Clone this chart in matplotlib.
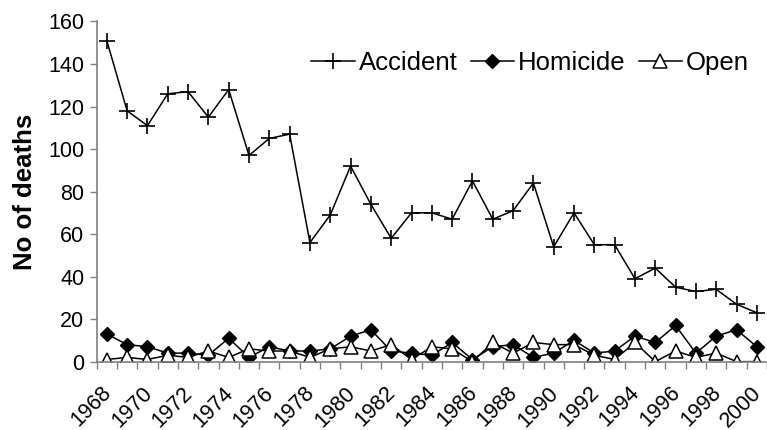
import matplotlib
matplotlib.use("Agg")
import matplotlib.pyplot as plt
import matplotlib.transforms as mtransforms
import numpy as np

plt.rcParams['font.family'] = ['Liberation Sans', 'DejaVu Sans']

# データ
years = list(range(1968, 2001))
accident = [151, 118, 111, 126, 127, 115, 128, 97, 105, 107, 56, 69, 92, 74, 58,
            70, 70, 67, 85, 67, 71, 84, 54, 70, 55, 55, 39, 44, 35, 33, 34, 27, 23]
homicide = [13, 8, 7, 4, 4, 3, 11, 2, 7, 5, 5, 6, 12, 15, 5,
            4, 3, 9, 1, 7, 8, 2, 4, 10, 4, 5, 12, 9, 17, 4, 12, 15, 7]
open_verdict = [1, 2, 1, 3, 2, 5, 2, 6, 5, 5, 2, 6, 7, 5, 8,
                1, 7, 6, 0, 9, 4, 9, 8, 8, 3, 1, 9, 0, 5, 2, 4, 0, 0]
tick_labels = [str(y) for y in years[::2]]

fig = plt.figure(figsize=(7.67, 4.30), dpi=100)
ax = fig.add_axes([0.126, 0.159, 0.874, 0.791])

x = np.arange(len(years))
ax.plot(x, accident, color="black", lw=1.1, marker="+", ms=12, mew=1.2, label="Accident")
ax.plot(x, homicide, color="black", lw=1.1, marker="D", ms=7, mfc="black", label="Homicide")
ax.plot(x, open_verdict, color="black", lw=1.1, marker="^", ms=10, mfc="white",
        mec="black", mew=1.1, label="Open")

ax.set_xlim(-0.5, len(years) - 0.5)
ax.set_ylim(0, 160)
ax.set_yticks(range(0, 161, 20))
ax.tick_params(axis="y", labelsize=15.5, length=5, width=1, color="#808080", pad=4)

# 目盛りはカテゴリの境界に、ラベルは2年おき
ax.set_xticks(x[::2])
ax.set_xticklabels(tick_labels, rotation=45, ha="right", va="top", rotation_mode="anchor")
ax.set_xticks(np.arange(-0.5, len(years), 1), minor=True)
ax.tick_params(axis="x", which="major", length=0, labelsize=15.5, pad=15)
ax.tick_params(axis="x", which="minor", length=5, width=1, color="#808080")
shift = mtransforms.ScaledTranslation(-0.06, 0, fig.dpi_scale_trans)
for lab in ax.get_xticklabels():
    lab.set_transform(lab.get_transform() + shift)

for s in ["top", "right"]:
    ax.spines[s].set_visible(False)
for s in ["left", "bottom"]:
    ax.spines[s].set_color("#808080")
    ax.spines[s].set_linewidth(1.2)

ax.set_ylabel("No of deaths", fontsize=18.5, fontweight="bold", labelpad=8)

ax.legend(loc="center right", bbox_to_anchor=(0.99, 0.853), bbox_transform=fig.transFigure,
          ncol=3, frameon=False, fontsize=18.5, handlelength=1.7, handletextpad=0.15,
          columnspacing=0.5, borderaxespad=0)

fig.savefig("out.png", dpi=100)
